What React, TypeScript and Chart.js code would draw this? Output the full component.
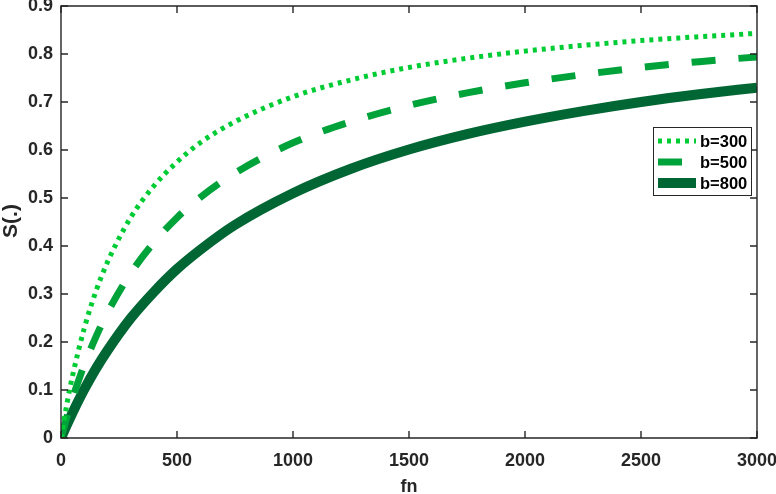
import React, { useEffect, useRef } from "react";
import { Chart, registerables } from "chart.js";

Chart.register(...registerables);

// Data
const fnValues = [0, 25, 50, 100, 150, 200, 300, 400, 500, 600, 750, 1000, 1250, 1500, 1750, 2000, 2250, 2500, 2750, 3000];
const s300 = [0, 0.07, 0.13, 0.228, 0.305, 0.366, 0.459, 0.525, 0.575, 0.615, 0.659, 0.711, 0.746, 0.772, 0.791, 0.806, 0.818, 0.828, 0.836, 0.843];
const s500 = [0, 0.043, 0.083, 0.152, 0.21, 0.261, 0.343, 0.407, 0.459, 0.501, 0.552, 0.615, 0.659, 0.693, 0.719, 0.74, 0.757, 0.772, 0.784, 0.794];
const s800 = [0, 0.027, 0.053, 0.101, 0.144, 0.182, 0.249, 0.304, 0.352, 0.392, 0.444, 0.51, 0.561, 0.601, 0.633, 0.659, 0.681, 0.7, 0.716, 0.73];
const seriesLabels = ["b=300", "b=500", "b=800"];
const xTicks = [0, 500, 1000, 1500, 2000, 2500, 3000];
const yTicks = [0, 0.1, 0.2, 0.3, 0.4, 0.5, 0.6, 0.7, 0.8, 0.9];
const xTitle = "fn";
const yTitle = "S(.)";

const FONT = "'Liberation Sans', Arial, Helvetica, sans-serif";
const AXIS_COLOR = "#262626";
const colors = ["#00cc33", "#00a23a", "#006633"];
const widths = [5, 7, 10];
const dashes: number[][] = [[4, 5], [24, 23], []];

const framePlugin = {
  id: "matlabFrame",
  afterDraw(chart: any) {
    const ctx = chart.ctx as CanvasRenderingContext2D;
    const { left, right, top, bottom } = chart.chartArea;
    const xs = chart.scales.x;
    const ys = chart.scales.y;
    ctx.save();
    ctx.strokeStyle = AXIS_COLOR;
    ctx.lineWidth = 1.4;
    ctx.setLineDash([]);
    ctx.beginPath();
    ctx.rect(left, top, right - left, bottom - top);
    ctx.stroke();
    const tl = 7;
    ctx.beginPath();
    xTicks.forEach((v) => {
      const px = xs.getPixelForValue(v);
      ctx.moveTo(px, bottom);
      ctx.lineTo(px, bottom - tl);
      ctx.moveTo(px, top);
      ctx.lineTo(px, top + tl);
    });
    yTicks.forEach((v) => {
      const py = ys.getPixelForValue(v);
      ctx.moveTo(left, py);
      ctx.lineTo(left + tl, py);
      ctx.moveTo(right, py);
      ctx.lineTo(right - tl, py);
    });
    ctx.stroke();

    // axis titles
    ctx.fillStyle = AXIS_COLOR;
    ctx.font = `bold 18px ${FONT}`;
    ctx.textAlign = "center";
    ctx.textBaseline = "alphabetic";
    ctx.fillText(xTitle, (left + right) / 2, 492);
    ctx.save();
    ctx.translate(17, 221);
    ctx.rotate(-Math.PI / 2);
    ctx.font = `bold 21px ${FONT}`;
    ctx.textBaseline = "alphabetic";
    ctx.fillText(yTitle, 0, 0);
    ctx.restore();

    // legend
    const lx = 653, ly = 127, lw = 98, lh = 68;
    ctx.fillStyle = "#ffffff";
    ctx.fillRect(lx, ly, lw, lh);
    ctx.strokeStyle = AXIS_COLOR;
    ctx.lineWidth = 1;
    ctx.strokeRect(lx + 0.5, ly + 0.5, lw, lh);
    const rows = [141, 162, 183];
    chart.data.datasets.forEach((ds: any, i: number) => {
      const y = rows[i];
      ctx.save();
      ctx.strokeStyle = ds.borderColor;
      ctx.lineWidth = ds.borderWidth;
      ctx.setLineDash(ds.borderDash || []);
      ctx.lineCap = "butt";
      ctx.beginPath();
      ctx.moveTo(658, y);
      ctx.lineTo(696, y);
      ctx.stroke();
      ctx.restore();
      ctx.fillStyle = "#000000";
      ctx.font = `bold 16.5px ${FONT}`;
      ctx.textAlign = "left";
      ctx.textBaseline = "middle";
      ctx.fillText(ds.label, 700, y + 1);
    });
    ctx.restore();
  },
};

export default function App() {
  const ref = useRef<HTMLCanvasElement | null>(null);
  useEffect(() => {
    document.body.style.margin = "0";
    const canvas = ref.current!;
    const seriesValues = [s300, s500, s800];
    const chart = new Chart(canvas, {
      type: "line",
      data: {
        datasets: seriesValues.map((vals, i) => ({
          label: seriesLabels[i],
          data: fnValues.map((f, j) => ({ x: f, y: vals[j] })),
          borderColor: colors[i],
          backgroundColor: colors[i],
          borderWidth: widths[i],
          borderDash: dashes[i],
          borderCapStyle: "butt" as const,
          pointRadius: 0,
          cubicInterpolationMode: "monotone" as const,
          fill: false,
        })),
      },
      options: {
        responsive: false,
        animation: false,
        events: [],
        layout: { padding: { top: 6, right: 19, left: 0, bottom: 0 } },
        plugins: { legend: { display: false }, tooltip: { enabled: false }, title: { display: false } },
        scales: {
          x: {
            type: "linear",
            min: 0,
            max: 3000,
            grid: { display: false, drawTicks: false },
            border: { display: false },
            afterBuildTicks: (s: any) => {
              s.ticks = xTicks.map((v) => ({ value: v }));
            },
            afterFit: (s: any) => {
              s.height = 56;
              s.paddingLeft = 0;
              s.paddingRight = 0;
            },
            ticks: {
              color: AXIS_COLOR,
              font: { family: FONT, size: 18, weight: "bold" },
              padding: 12,
              maxRotation: 0,
              autoSkip: false,
              callback: (v: any) => String(v),
            },
          },
          y: {
            type: "linear",
            min: 0,
            max: 0.9,
            grid: { display: false, drawTicks: false },
            border: { display: false },
            afterBuildTicks: (s: any) => {
              s.ticks = yTicks.map((v) => ({ value: v }));
            },
            afterFit: (s: any) => {
              s.width = 61;
              s.paddingTop = 0;
              s.paddingBottom = 0;
            },
            ticks: {
              color: AXIS_COLOR,
              font: { family: FONT, size: 18, weight: "bold" },
              padding: 8,
              autoSkip: false,
              callback: (v: any) => (Number(v) === 0 ? "0" : Number(v).toFixed(1)),
            },
          },
        },
      },
      plugins: [framePlugin],
    });
    return () => chart.destroy();
  }, []);
  return <canvas ref={ref} width={776} height={494} style={{ display: "block" }} />;
}
